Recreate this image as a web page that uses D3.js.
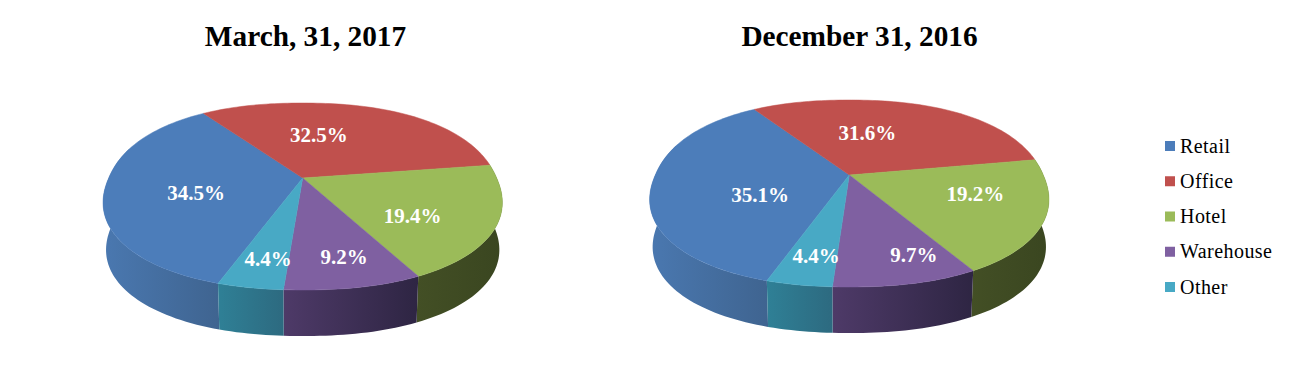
<!DOCTYPE html>
<html>
<head>
<meta charset="utf-8">
<script src="https://cdnjs.cloudflare.com/ajax/libs/d3/7.8.5/d3.min.js"></script>
<style>
  html, body { margin: 0; padding: 0; background: #fff; }
  svg { display: block; }
  text { font-family: "Liberation Serif", "Times New Roman", serif; }
</style>
</head>
<body>
<svg id="chart"></svg>
<script>
// Property types shared by both pies
const categories = ['Retail', 'Office', 'Hotel', 'Warehouse', 'Other'];
const march2017Values = [34.5, 32.5, 19.4, 9.2, 4.4];
const december2016Values = [35.1, 31.6, 19.2, 9.7, 4.4];
const topColors = ['#4c7dba', '#c0504d', '#9bbb59', '#7f60a1', '#48a9c5'];
const wallLeftColors = ['#4a78b0', '#8f3b39', '#434f25', '#4e3a68', '#2f8096'];
const wallRightColors = ['#3f6490', '#7d3331', '#3a4620', '#2e2543', '#2d6a80'];

const width = 1294;
const height = 383;

const svg = d3.select('#chart').attr('width', width).attr('height', height);
const defs = svg.append('defs');

// Tilted disc: a unit circle pushed through a perspective projection,
// which is why the apex sits above the middle of the ellipse
const tilt = -0.198;
const discX = 194;
const discY = 89.8;
const wallDrop = 47.7;
const wallShrink = 0.985;
const rimPower = 2.2;   // the outline is a bit fuller than a true ellipse

const fill = d3.scaleOrdinal().domain(categories).range(topColors);
const wallLeft = d3.scaleOrdinal().domain(categories).range(wallLeftColors);
const wallRight = d3.scaleOrdinal().domain(categories).range(wallRightColors);

const toRad = d => d * Math.PI / 180;

function project(angle, r, shrink = 1) {
  const u = r * Math.sin(angle);
  const v = -r * Math.cos(angle);
  const w = 1 + tilt * v;
  return [discX * shrink * u / w, discY * shrink * v / w];
}

function rim(angle, shrink = 1) {
  const s = Math.abs(Math.sin(angle)) ** rimPower;
  const c = Math.abs(Math.cos(angle)) ** rimPower;
  return project(angle, (s + c) ** (-1 / rimPower), shrink);
}

function samples(a0, a1) {
  const n = Math.max(2, Math.ceil(Math.abs(a1 - a0) / toRad(1.5)));
  return d3.range(n + 1).map(i => a0 + (a1 - a0) * i / n);
}

const path = d3.line();

function drawPie(id, title, values, opts) {
  const g = svg.append('g').attr('transform', `translate(${opts.cx}, ${opts.cy})`);

  const slices = d3.pie()
    .sort(null)
    .value(d => d.value)
    .startAngle(toRad(opts.start))
    .endAngle(toRad(opts.start) + 2 * Math.PI)(
      categories.map((name, i) => ({ name, value: values[i] })));

  // Walls first, the top face then covers whatever is behind it
  const wallFrom = toRad(70);
  const wallTo = toRad(290);
  slices.forEach((s, i) => {
    // retail starts at a negative angle, shift it so the clamp below works
    let a0 = s.startAngle;
    let a1 = s.endAngle;
    if (a0 < 0) { a0 += 2 * Math.PI; a1 += 2 * Math.PI; }
    a0 = Math.max(a0, wallFrom);
    a1 = Math.min(a1, wallTo);
    if (a1 <= a0) return;

    const gradId = `${id}-wall-${i}`;
    const grad = defs.append('linearGradient').attr('id', gradId);
    grad.append('stop').attr('offset', '0%').attr('stop-color', wallLeft(s.data.name));
    grad.append('stop').attr('offset', '100%').attr('stop-color', wallRight(s.data.name));

    const angles = samples(a0, a1);
    const upper = angles.map(a => rim(a));
    const lower = angles.slice().reverse().map(a => {
      const p = rim(a, wallShrink);
      return [p[0], p[1] + wallDrop];
    });
    g.append('path')
      .attr('d', path(upper.concat(lower)) + 'Z')
      .attr('fill', `url(#${gradId})`);
  });

  // Top face
  slices.forEach(s => {
    const edge = samples(s.startAngle, s.endAngle).map(a => rim(a));
    g.append('path')
      .attr('d', path([[0, 0]].concat(edge)) + 'Z')
      .attr('fill', fill(s.data.name))
      .attr('stroke', fill(s.data.name))
      .attr('stroke-width', 0.5);
  });

  // Value labels
  slices.forEach((s, i) => {
    const p = project((s.startAngle + s.endAngle) / 2, 0.6);
    g.append('text')
      .attr('x', p[0] + opts.nudge[i][0])
      .attr('y', p[1] + opts.nudge[i][1])
      .attr('dy', '0.35em')
      .attr('text-anchor', 'middle')
      .attr('font-size', '21px')
      .attr('font-weight', 'bold')
      .attr('fill', '#fff')
      .text(`${d3.format('.1f')(s.value)}%`);
  });

  svg.append('text')
    .attr('x', opts.titleX)
    .attr('y', 46)
    .attr('text-anchor', 'middle')
    .attr('font-size', '29.3px')
    .attr('font-weight', 'bold')
    .attr('fill', '#000')
    .text(title);
}

drawPie('mar', 'March, 31, 2017', march2017Values, {
  cx: 302.7, cy: 178, start: -159.6, titleX: 305.5,
  nudge: [[10.6, 8], [-25, 1], [0, 12], [14, 19], [-6, 21]]
});

drawPie('dec', 'December 31, 2016', december2016Values, {
  cx: 849.3, cy: 175, start: -160.16, titleX: 859.5,
  nudge: [[28, 13.4], [-23, 2.5], [14.8, -5], [34, 20], [-6, 21]]
});

// Legend
const legendY = d3.scalePoint().domain(categories).range([146, 287]);
const legend = svg.append('g');
categories.forEach(name => {
  legend.append('rect')
    .attr('x', 1165)
    .attr('y', legendY(name) - 5)
    .attr('width', 10)
    .attr('height', 10)
    .attr('fill', fill(name));
  legend.append('text')
    .attr('x', 1180)
    .attr('y', legendY(name))
    .attr('dy', '0.33em')
    .attr('font-size', '20px')
    .attr('letter-spacing', '0.45px')
    .attr('fill', '#000')
    .text(name);
});
</script>
</body>
</html>
